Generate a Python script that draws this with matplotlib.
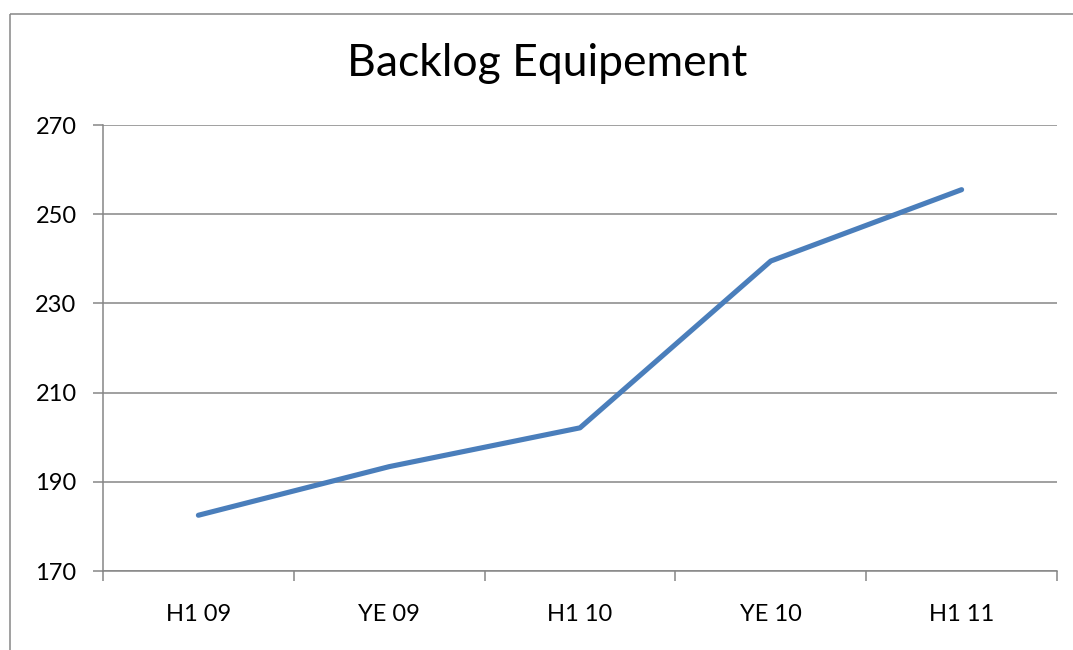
import matplotlib
matplotlib.use("Agg")
import matplotlib.pyplot as plt
from matplotlib.lines import Line2D
import numpy as np

plt.rcParams['font.family'] = ['Lato', 'DejaVu Sans']

# data
periods = ["H1 09", "YE 09", "H1 10", "YE 10", "H1 11"]
backlog = [182.5, 193.4, 202.1, 239.5, 255.5]
y_ticks = [170, 190, 210, 230, 250, 270]

grid_col = "#868686"

fig = plt.figure(figsize=(10.73, 6.5), dpi=100)
ax = fig.add_axes([103 / 1073, 1 - 571 / 650, (1057 - 103) / 1073, (571 - 125) / 650])

x = np.arange(len(periods))
ax.plot(x, backlog, color="#4A7EBB", linewidth=3.7, solid_capstyle="round", solid_joinstyle="round", zorder=3)

ax.set_xlim(-0.5, len(periods) - 0.5)
ax.set_ylim(170, 270)
ax.set_yticks(y_ticks)
ax.yaxis.grid(True, color=grid_col, linewidth=1.1)
ax.set_axisbelow(True)

# category labels centred, tick marks between categories
ax.set_xticks(x)
ax.set_xticklabels(periods)
ax.set_xticks(np.arange(-0.5, len(periods)), minor=True)
ax.tick_params(axis="x", which="major", length=0, pad=24, labelsize=17)
ax.tick_params(axis="x", which="minor", length=7, width=1.1, color=grid_col)
ax.tick_params(axis="y", length=7, width=1.1, color=grid_col, pad=12, labelsize=17)

for side in ["top", "right"]:
    ax.spines[side].set_visible(False)
for side in ["left", "bottom"]:
    ax.spines[side].set_color(grid_col)
    ax.spines[side].set_linewidth(1.1)

fig.text(547 / 1073, 1 - 63 / 650, "Backlog Equipement", ha="center", va="center", fontsize=32)

# outer chart frame, cut off at right and bottom like the reference
fx, fy = 9.5 / 1073, 1 - 13.5 / 650
fig.add_artist(Line2D([fx, 1.1], [fy, fy], transform=fig.transFigure, color=grid_col, linewidth=1.1,
                      solid_capstyle="butt"))
fig.add_artist(Line2D([fx, fx], [-0.1, fy], transform=fig.transFigure, color=grid_col, linewidth=1.1,
                      solid_capstyle="butt"))

fig.savefig("out.png", dpi=100)
